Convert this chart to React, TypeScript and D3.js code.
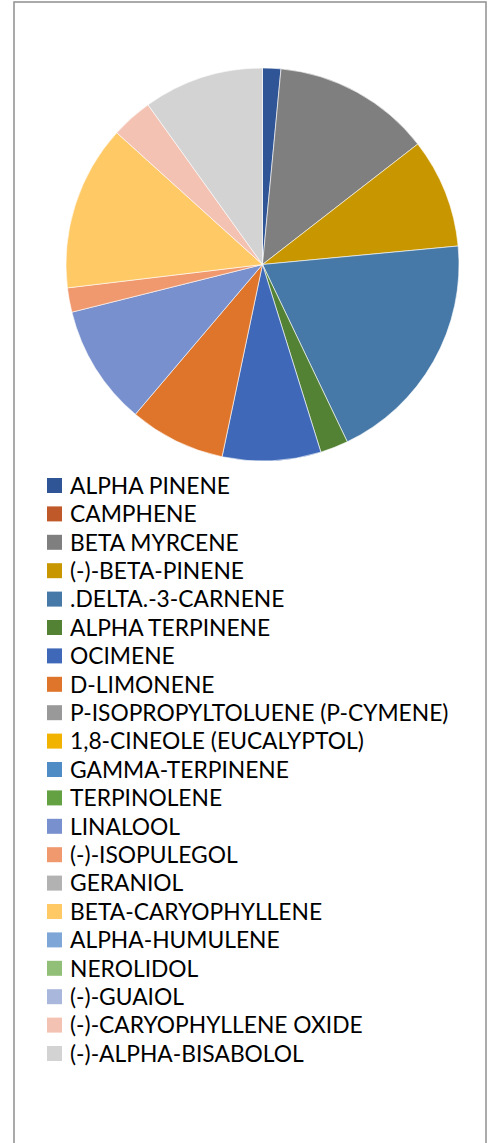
import React from "react";
import * as d3 from "d3";

const categories = [
  "ALPHA PINENE",
  "CAMPHENE",
  "BETA MYRCENE",
  "(-)-BETA-PINENE",
  ".DELTA.-3-CARNENE",
  "ALPHA TERPINENE",
  "OCIMENE",
  "D-LIMONENE",
  "P-ISOPROPYLTOLUENE (P-CYMENE)",
  "1,8-CINEOLE (EUCALYPTOL)",
  "GAMMA-TERPINENE",
  "TERPINOLENE",
  "LINALOOL",
  "(-)-ISOPULEGOL",
  "GERANIOL",
  "BETA-CARYOPHYLLENE",
  "ALPHA-HUMULENE",
  "NEROLIDOL",
  "(-)-GUAIOL",
  "(-)-CARYOPHYLLENE OXIDE",
  "(-)-ALPHA-BISABOLOL",
];

const values = [
  1.5, 0, 13.0, 9.0, 19.4, 2.3, 8.1, 7.9, 0, 0, 0, 0, 9.9, 2.0, 0, 13.6, 0, 0, 0, 3.4, 9.9,
];

const colors = [
  "#2F5597",
  "#C0592A",
  "#7F7F7F",
  "#C89700",
  "#4679A7",
  "#548235",
  "#3F69B8",
  "#DF752B",
  "#999999",
  "#F2B300",
  "#4F8CC6",
  "#63A143",
  "#7890CD",
  "#F0986E",
  "#B2B2B2",
  "#FFC966",
  "#7EA7D8",
  "#92BF77",
  "#A9B7DD",
  "#F4C2B2",
  "#D3D3D3",
];

export default function App() {
  const W = 492;
  const H = 1143;
  const cx = 262.5;
  const cy = 264.5;
  const r = 196.5;

  const data = categories.map((c, i) => ({ name: c, value: values[i], color: colors[i] }));
  const pie = d3.pie<any>().sort(null).value((d) => d.value);
  const arcs = pie(data);
  const arcGen = d3.arc<any>().innerRadius(0).outerRadius(r);

  const legendY0 = 485.5;
  const step = 28.4;

  return (
    <svg
      width={W}
      height={H}
      style={{ position: "absolute", left: 0, top: 0, display: "block", background: "#fff" }}
    >
      <rect x={14} y={2} width={472} height={H + 10} fill="#fff" stroke="#8f8f8f" strokeWidth={1.5} />
      <g transform={`translate(${cx},${cy})`}>
        {arcs.map((a, i) =>
          a.data.value > 0 ? (
            <path key={i} d={arcGen(a) as string} fill={a.data.color} stroke="#fff" strokeWidth={0.6} />
          ) : null
        )}
      </g>
      <g>
        {data.map((d, i) => (
          <g key={i} transform={`translate(0,${legendY0 + i * step})`}>
            <rect x={47} y={-7.5} width={15} height={15} fill={d.color} />
            <text
              x={70}
              y={0}
              dy="0.36em"
              fontFamily="Lato, 'Open Sans', sans-serif"
              fontSize={22.8}
              fill="#000"
            >
              {d.name}
            </text>
          </g>
        ))}
      </g>
    </svg>
  );
}
